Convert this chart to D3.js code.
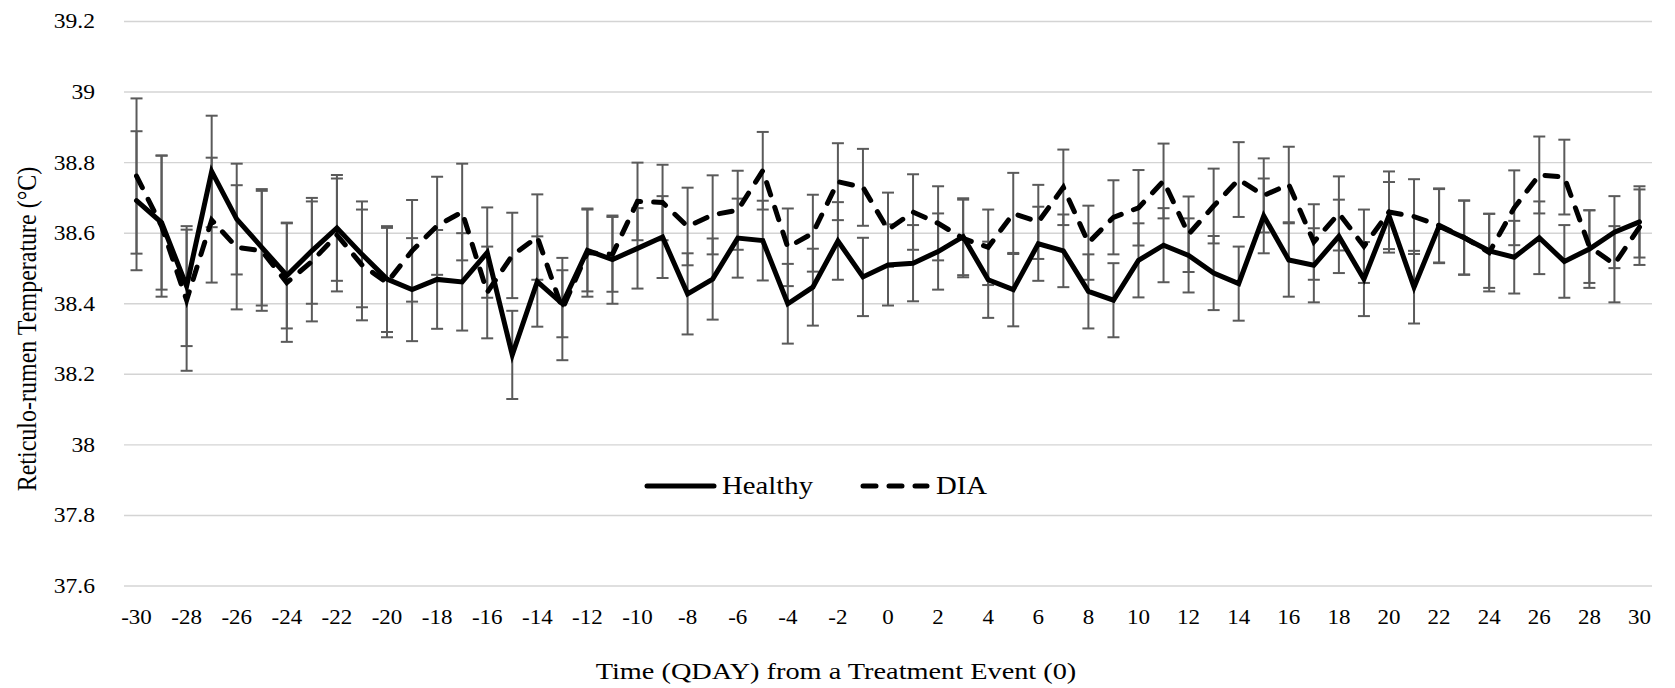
<!DOCTYPE html>
<html>
<head>
<meta charset="utf-8">
<script src="https://cdn.jsdelivr.net/npm/d3@7"></script>
<style>
  html, body { margin: 0; padding: 0; background: #fff; }
  svg { display: block; }
  text { font-family: "Liberation Serif", "Times New Roman", serif; fill: #000; }
</style>
</head>
<body>
<svg id="chart" width="1675" height="688"></svg>
<script>
// ---- Data ----
const categories = [-30,-29,-28,-27,-26,-25,-24,-23,-22,-21,-20,-19,-18,-17,-16,-15,-14,-13,-12,-11,-10,-9,-8,-7,-6,-5,-4,-3,-2,-1,0,1,2,3,4,5,6,7,8,9,10,11,12,13,14,15,16,17,18,19,20,21,22,23,24,25,26,27,28,29,30];

const healthyMean = [38.692,38.63,38.45,38.775,38.64,38.56,38.48,38.55,38.615,38.54,38.47,38.44,38.469,38.462,38.545,38.255,38.463,38.40,38.551,38.525,38.557,38.589,38.428,38.47,38.586,38.579,38.40,38.447,38.578,38.476,38.51,38.515,38.548,38.59,38.468,38.44,38.57,38.55,38.435,38.41,38.523,38.566,38.537,38.487,38.457,38.649,38.524,38.509,38.591,38.47,38.65,38.447,38.62,38.587,38.55,38.532,38.587,38.52,38.555,38.603,38.632];
const healthySE = [0.197,0.19,0.17,0.158,0.157,0.165,0.15,0.15,0.15,0.15,0.15,0.146,0.14,0.138,0.128,0.125,0.128,0.095,0.116,0.125,0.114,0.116,0.115,0.115,0.112,0.113,0.113,0.109,0.11,0.111,0.115,0.108,0.108,0.109,0.108,0.104,0.105,0.103,0.105,0.105,0.105,0.105,0.105,0.105,0.105,0.106,0.104,0.105,0.104,0.105,0.095,0.103,0.105,0.105,0.105,0.103,0.103,0.103,0.11,0.102,0.101];

const diaMean = [38.762,38.62,38.41,38.637,38.56,38.55,38.46,38.52,38.595,38.51,38.46,38.55,38.621,38.66,38.432,38.537,38.589,38.385,38.545,38.54,38.69,38.687,38.619,38.652,38.665,38.777,38.56,38.60,38.746,38.73,38.61,38.66,38.628,38.585,38.56,38.656,38.632,38.73,38.573,38.645,38.672,38.748,38.597,38.677,38.752,38.707,38.738,38.575,38.656,38.563,38.66,38.647,38.622,38.588,38.545,38.672,38.765,38.759,38.562,38.512,38.617];
const diaSE = [0.22,0.2,0.2,0.177,0.176,0.17,0.168,0.17,0.16,0.157,0.155,0.144,0.139,0.137,0.13,0.121,0.121,0.145,0.125,0.106,0.11,0.107,0.11,0.112,0.112,0.11,0.11,0.109,0.109,0.109,0.105,0.107,0.105,0.11,0.107,0.115,0.105,0.107,0.105,0.105,0.107,0.106,0.107,0.106,0.106,0.105,0.107,0.107,0.105,0.104,0.115,0.106,0.105,0.105,0.11,0.106,0.109,0.106,0.103,0.108,0.107];

const yTicks = [37.6,37.8,38,38.2,38.4,38.6,38.8,39,39.2];
const xTickLabels = [-30,-28,-26,-24,-22,-20,-18,-16,-14,-12,-10,-8,-6,-4,-2,0,2,4,6,8,10,12,14,16,18,20,22,24,26,28,30];

const seriesNames = ["Healthy", "DIA"];
const yTitle = "Reticulo-rumen Temperature (\u00B0C)";
const xTitle = "Time (QDAY) from a Treatment Event (0)";

// ---- Layout ----
const svg = d3.select("#chart");
const plot = { left: 124, right: 1652, top: 21.5, bottom: 586 };
const SX = 1.15; // horizontal text stretch seen in the reference

const x = d3.scaleBand().domain(categories).range([plot.left, plot.right]).padding(0);
const cx = d => x(d) + x.bandwidth() / 2;
const y = d3.scaleLinear().domain([37.6, 39.2]).range([plot.bottom, plot.top]);

// gridlines
svg.append("g").selectAll("line").data(yTicks).join("line")
  .attr("x1", plot.left).attr("x2", plot.right)
  .attr("y1", d => y(d)).attr("y2", d => y(d))
  .attr("stroke", "#d4d4d4").attr("stroke-width", 1.4);

// y tick labels
svg.append("g").selectAll("text").data(yTicks).join("text")
  .attr("transform", d => `translate(95,${y(d)}) scale(${SX},1)`)
  .attr("text-anchor", "end").attr("dominant-baseline", "central")
  .style("font-size", "20.5px")
  .text(d => d3.format("")(+d.toFixed(1)));

// x tick labels
svg.append("g").selectAll("text").data(xTickLabels).join("text")
  .attr("transform", d => `translate(${cx(d)},618) scale(${SX},1)`)
  .attr("text-anchor", "middle").attr("dominant-baseline", "central")
  .style("font-size", "20px")
  .text(d => d);

// axis titles
svg.append("text")
  .attr("transform", `translate(836,671) scale(1.18,1)`)
  .attr("text-anchor", "middle").attr("dominant-baseline", "central")
  .style("font-size", "24px").text(xTitle);

svg.append("text")
  .attr("transform", `translate(27,329) scale(${SX},1) rotate(-90)`)
  .attr("text-anchor", "middle").attr("dominant-baseline", "central")
  .style("font-size", "24px").text(yTitle);

// series
const series = [
  { name: seriesNames[0], mean: healthyMean, se: healthySE, dash: null },
  { name: seriesNames[1], mean: diaMean, se: diaSE, dash: "13,13" }
];

const errColor = "#5a5a5a";
const capHalf = 6;
series.forEach(s => {
  const g = svg.append("g");
  const rows = categories.map((c, i) => ({ c, m: s.mean[i], e: s.se[i] }));
  g.selectAll("line.v").data(rows).join("line")
    .attr("x1", d => cx(d.c)).attr("x2", d => cx(d.c))
    .attr("y1", d => y(d.m + d.e)).attr("y2", d => y(d.m - d.e))
    .attr("stroke", errColor).attr("stroke-width", 2);
  g.selectAll("line.t").data(rows).join("line")
    .attr("x1", d => cx(d.c) - capHalf).attr("x2", d => cx(d.c) + capHalf)
    .attr("y1", d => y(d.m + d.e)).attr("y2", d => y(d.m + d.e))
    .attr("stroke", errColor).attr("stroke-width", 2);
  g.selectAll("line.b").data(rows).join("line")
    .attr("x1", d => cx(d.c) - capHalf).attr("x2", d => cx(d.c) + capHalf)
    .attr("y1", d => y(d.m - d.e)).attr("y2", d => y(d.m - d.e))
    .attr("stroke", errColor).attr("stroke-width", 2);
});

const line = d3.line().x(d => cx(d.c)).y(d => y(d.m));
series.forEach(s => {
  const rows = categories.map((c, i) => ({ c, m: s.mean[i] }));
  const p = svg.append("path").datum(rows)
    .attr("d", line)
    .attr("fill", "none").attr("stroke", "#000").attr("stroke-width", 5)
    .attr("stroke-linejoin", "miter").attr("stroke-linecap", "round");
  if (s.dash) p.attr("stroke-dasharray", s.dash);
});

// legend
const legend = [
  { name: seriesNames[0], x1: 647, x2: 714, tx: 722, dash: null },
  { name: seriesNames[1], x1: 863, x2: 927, tx: 936, dash: "13,13" }
];
const lg = svg.append("g");
legend.forEach(l => {
  const ln = lg.append("line").attr("x1", l.x1).attr("x2", l.x2).attr("y1", 486).attr("y2", 486)
    .attr("stroke", "#000").attr("stroke-width", 5).attr("stroke-linecap", "round");
  if (l.dash) ln.attr("stroke-dasharray", l.dash);
  lg.append("text")
    .attr("transform", `translate(${l.tx},486) scale(${SX},1)`)
    .attr("dominant-baseline", "central")
    .style("font-size", "25px").text(l.name);
});
</script>
</body>
</html>
